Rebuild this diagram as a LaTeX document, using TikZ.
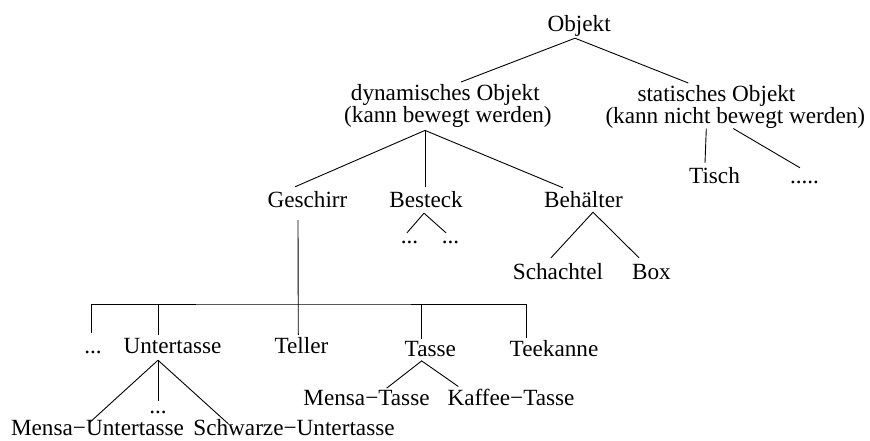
\documentclass[tikz,border=0pt]{standalone}
\usepackage{fontspec}
\setmainfont{Liberation Serif}
\begin{document}
\begin{tikzpicture}[x=1pt,y=-1pt,
  lbl/.style={font=\fontsize{23.2}{21}\selectfont, text height=16pt, text depth=5pt,
              inner xsep=0pt, inner ysep=2pt, anchor=base},
  flat/.style={lbl, text depth=0pt, inner ysep=0pt},
  multi/.style={font=\fontsize{23.2}{21}\selectfont, align=left, inner sep=0pt, anchor=north west},
  link/.style={draw, line width=0.9pt}]
\useasboundingbox (0,0) rectangle (870,441);

% labels
\node[lbl] (obj) at (579.2,32) {Objekt};
\node[multi] (dyn) at (344,84) {\hspace*{6.7pt}dynamisches Objekt\\(kann bewegt werden)};
\node[multi] (stat) at (605.3,85) {\hspace*{32pt}statisches Objekt\\(kann nicht bewegt werden)};

\node[lbl] (tisch) at (714.5,183) {Tisch};
\node[lbl] (sdots) at (804.5,183) {.....};

\node[lbl] (gesch) at (307.5,207) {Geschirr};
\node[lbl] (best) at (426,207) {Besteck};
\node[lbl] (beh) at (583.5,207) {Behälter};

\node[lbl] (bdotsa) at (409.5,243) {...};
\node[lbl] (bdotsb) at (450.5,243) {...};
\node[lbl] (scha) at (558,279) {Schachtel};
\node[lbl] (box) at (651.5,279) {Box};

\node[lbl] (ldots) at (93,353) {...};
\node[lbl] (unter) at (172.5,353) {Untertasse};
\node[lbl] (teller) at (301.5,353) {Teller};
\node[lbl] (tasse) at (430.3,356) {Tasse};
\node[lbl] (teek) at (554,356) {Teekanne};

\node[lbl] (mtasse) at (366.5,405) {Mensa−Tasse};
\node[lbl] (ktasse) at (511,405) {Kaffee−Tasse};
\node[lbl] (udots) at (158,413) {...};
\node[flat] (muntert) at (97.5,435.5) {Mensa−Untertasse};
\node[flat] (suntert) at (294,435.5) {Schwarze−Untertasse};

% top level
\draw[link] ([xshift=-4.2pt,yshift=1pt]obj.south) -- ([xshift=117pt,yshift=2pt]dyn.north west);
\draw[link] ([xshift=-4.2pt,yshift=1pt]obj.south) -- ([xshift=83pt,yshift=2pt]stat.north west);

% static objects
\draw[link] ([xshift=101pt]stat.south west) -- ([xshift=-9.5pt,yshift=2pt]tisch.north);
\draw[link] ([xshift=128pt]stat.south west) -- ([xshift=-4.5pt,yshift=-3pt]sdots.north);

% dynamic objects
\coordinate (dapex) at ([xshift=81pt,yshift=-2.8pt]dyn.south west);
\draw[link] (dapex) -- ([xshift=-12.5pt,yshift=2pt]gesch.north);
\draw[link] (dapex) -- ([xshift=-1pt,yshift=2pt]best.north);
\draw[link] (dapex) -- ([xshift=-20.5pt,yshift=1pt]beh.north);

% Besteck
\draw[link] ([xshift=-2.5pt,yshift=-8pt]bdotsa.north) -- ([xshift=-2pt,yshift=1pt]best.south)
            -- ([xshift=-4.5pt,yshift=-8pt]bdotsb.north);

% Behälter
\draw[link] ([xshift=-7pt,yshift=3pt]scha.north) -- ([xshift=9.5pt,yshift=2pt]beh.south)
            -- ([xshift=-12.5pt,yshift=3pt]box.north);

% Geschirr
\draw[link] ([xshift=-9.5pt,yshift=-6pt]gesch.south) -- ([xshift=-3.2pt]teller.north);
\coordinate (bar) at (298.3,304);
\coordinate (ldtop) at ([xshift=-1.7pt,yshift=1.7pt]ldots.north);
\coordinate (uttop) at ([xshift=-14.5pt]unter.north);
\coordinate (tatop) at ([xshift=-9.3pt,yshift=-1pt]tasse.north);
\coordinate (tktop) at ([xshift=-27.3pt]teek.north);
\draw[link] (ldtop) |- (bar) -| (tktop);
\draw[link] (uttop) -- (uttop |- bar);
\draw[link] (tatop) -- (tatop |- bar);

% Untertasse
\coordinate (uapex) at ([xshift=-14.5pt]unter.south);
\draw[link] (uapex) -- ([xshift=-8.5pt,yshift=-3.8pt]muntert.north);
\draw[link] (uapex) -- ([yshift=-5.7pt]udots.north);
\draw[link] (uapex) -- ([xshift=-65.7pt,yshift=-4.5pt]suntert.north);

% Tasse
\draw[link] ([xshift=20.2pt,yshift=-1.3pt]mtasse.north) -- ([xshift=-8.6pt,yshift=2.3pt]tasse.south)
            -- ([xshift=-52.7pt,yshift=0.3pt]ktasse.north);
\end{tikzpicture}
\end{document}
